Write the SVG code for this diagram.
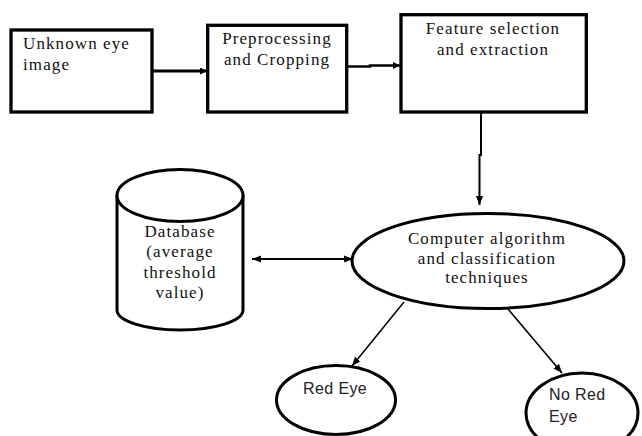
<svg xmlns="http://www.w3.org/2000/svg" width="642" height="436" viewBox="0 0 642 436">
<defs>
<style>
.box{fill:#fff;stroke:#000;stroke-width:3.3}
.shp{fill:#fff;stroke:#000;stroke-width:3}
.serif{font-family:'Liberation Serif','DejaVu Serif',serif;font-size:17px;fill:#111;letter-spacing:1.1px}
.sans{font-family:'Liberation Sans','DejaVu Sans',sans-serif;font-size:16px;fill:#222;letter-spacing:0.4px}
.c{text-anchor:middle}
.ln{fill:none;stroke:#000}
</style>
<marker id="ah" viewBox="0 0 10 10" refX="10" refY="5" markerWidth="7" markerHeight="7" markerUnits="userSpaceOnUse" orient="auto-start-reverse">
<path d="M0,0 L10,5 L0,10 z" fill="#000"/>
</marker>
<marker id="ahs" viewBox="0 0 10 10" refX="10" refY="5" markerWidth="9" markerHeight="9" markerUnits="userSpaceOnUse" orient="auto-start-reverse">
<path d="M0,1 L10,5 L0,9 z" fill="#000"/>
</marker>
</defs>
<rect width="642" height="436" fill="#fff"/>
<g id="connectors">
<line class="ln" x1="153" y1="71" x2="207" y2="71" stroke-width="3" marker-end="url(#ah)"/>
<polyline class="ln" points="348,66.5 370,66.5 370,65.5 400,65.5" stroke-width="2.5" marker-end="url(#ah)"/>
<polyline class="ln" points="481,113 481,155 479.5,155 479.5,205" stroke-width="2" marker-end="url(#ahs)"/>
<line class="ln" x1="252" y1="259" x2="353" y2="259" stroke-width="2" marker-start="url(#ahs)" marker-end="url(#ahs)"/>
<line class="ln" x1="404" y1="302" x2="352" y2="366" stroke-width="1.6" marker-end="url(#ahs)"/>
<line class="ln" x1="503" y1="303" x2="562" y2="373" stroke-width="1.6" marker-end="url(#ahs)"/>
</g>
<g id="node-unknown">
<rect class="box" x="11" y="30" width="141" height="82"/>
<text class="serif" font-family="Liberation Serif, serif" x="23" y="49">Unknown eye</text>
<text class="serif" font-family="Liberation Serif, serif" x="23" y="70">image</text>
</g>
<g id="node-preprocessing">
<rect class="box" x="207.7" y="25.3" width="139" height="86.7"/>
<text class="serif c" x="277" y="44">Preprocessing</text>
<text class="serif c" x="277" y="65">and Cropping</text>
</g>
<g id="node-feature">
<rect class="box" x="401" y="14.7" width="185.3" height="97.3"/>
<text class="serif c" x="493" y="34">Feature selection</text>
<text class="serif c" x="493" y="55">and extraction</text>
</g>
<g id="node-database">
<path class="shp" d="M117,195 L117,310 A63,20 0 0 0 243,310 L243,195"/>
<ellipse class="shp" cx="180" cy="195.5" rx="63" ry="26"/>
<text class="serif c" x="180" y="237">Database</text>
<text class="serif c" x="180" y="257">(average</text>
<text class="serif c" x="180" y="278">threshold</text>
<text class="serif c" x="180" y="298">value)</text>
</g>
<g id="node-algorithm">
<ellipse class="shp" cx="488" cy="261" rx="136" ry="47.5"/>
<text class="serif c" x="487" y="244">Computer algorithm</text>
<text class="serif c" x="487" y="264">and classification</text>
<text class="serif c" x="487" y="283">techniques</text>
</g>
<g id="node-redeye">
<ellipse class="shp" cx="336" cy="400" rx="59.5" ry="34.5"/>
<text class="sans" x="303" y="394">Red Eye</text>
</g>
<g id="node-noredeye">
<ellipse class="shp" cx="582" cy="413" rx="56" ry="40"/>
<text class="sans" x="549" y="400">No Red</text>
<text class="sans" x="549" y="422">Eye</text>
</g>
</svg>
